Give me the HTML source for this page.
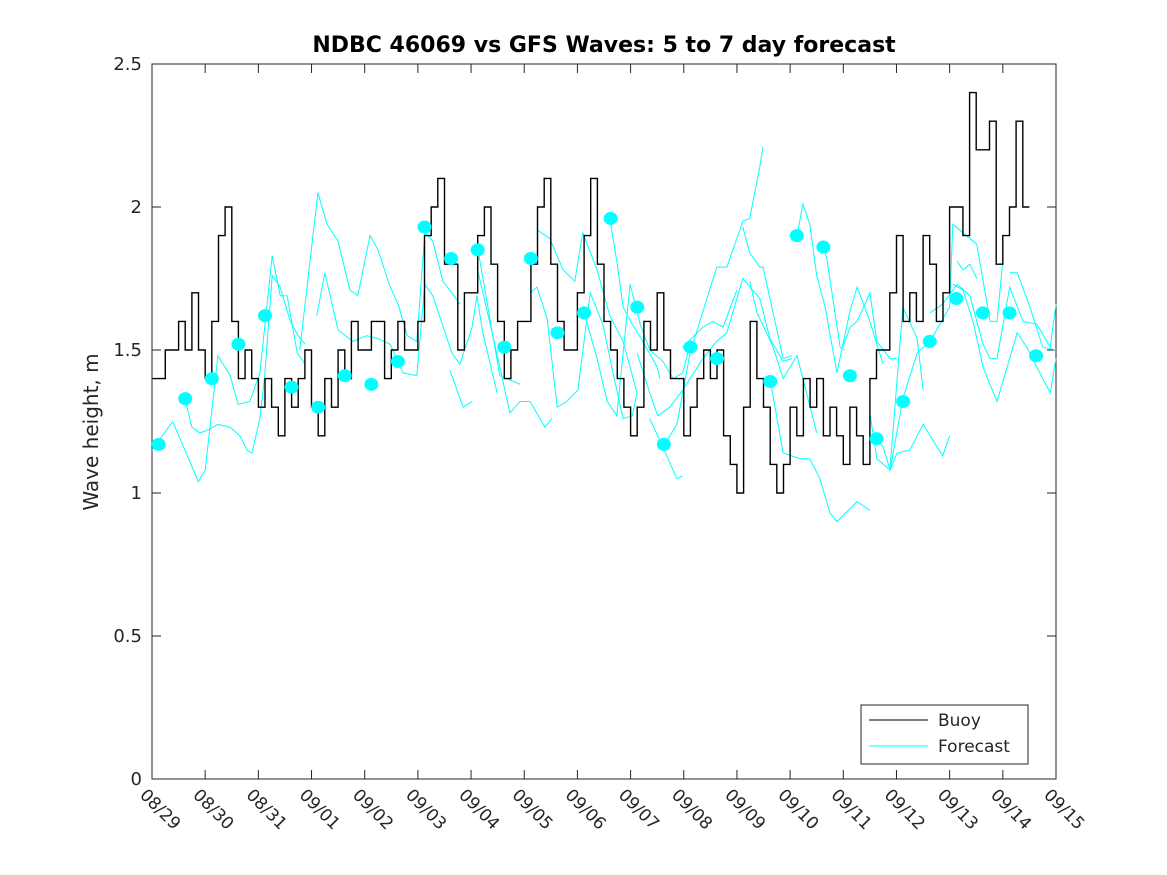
<!DOCTYPE html>
<html><head><meta charset="utf-8"><style>
body{margin:0;background:#fff}
svg{display:block}
text{font-family:"DejaVu Sans","Liberation Sans",sans-serif;fill:#262626}
</style></head><body>
<svg id="chart" width="1167" height="875" viewBox="0 0 1167 875" xmlns="http://www.w3.org/2000/svg">
<rect width="1167" height="875" fill="#fff"/>
<text x="604" y="52" text-anchor="middle" font-size="22" font-weight="bold" style="fill:#000">NDBC 46069 vs GFS Waves: 5 to 7 day forecast</text>
<text transform="translate(98,432) rotate(-90)" text-anchor="middle" font-size="20">Wave height, m</text>
<g id="plot"></g>
</svg>
<script>
const xTickLabels=["08/29","08/30","08/31","09/01","09/02","09/03","09/04","09/05","09/06","09/07","09/08","09/09","09/10","09/11","09/12","09/13","09/14","09/15"];
const yTickValues=[0,0.5,1,1.5,2,2.5];
const yTickLabels=["0","0.5","1","1.5","2","2.5"];
const buoyStart=0, buoyStep=0.125;
const buoyVals=[1.4,1.4,1.5,1.5,1.6,1.5,1.7,1.5,1.4,1.6,1.9,2.0,1.6,1.4,1.5,1.4,1.3,1.4,1.3,1.2,1.4,1.3,1.4,1.5,1.3,1.2,1.4,1.3,1.5,1.4,1.6,1.5,1.5,1.6,1.6,1.4,1.5,1.6,1.5,1.5,1.6,1.9,2.0,2.1,1.8,1.8,1.5,1.7,1.7,1.9,2.0,1.8,1.6,1.4,1.5,1.6,1.6,1.8,2.0,2.1,1.8,1.6,1.5,1.5,1.7,1.9,2.1,1.8,1.6,1.5,1.4,1.3,1.2,1.3,1.6,1.5,1.7,1.5,1.4,1.4,1.2,1.3,1.4,1.5,1.4,1.5,1.2,1.1,1.0,1.3,1.6,1.4,1.3,1.1,1.0,1.1,1.3,1.2,1.4,1.3,1.4,1.2,1.3,1.2,1.1,1.3,1.2,1.1,1.4,1.5,1.5,1.7,1.9,1.6,1.7,1.6,1.9,1.8,1.6,1.7,2.0,2.0,1.9,2.4,2.2,2.2,2.3,1.8,1.9,2.0,2.3,2.0];
const dotDays=[0.125,0.625,1.125,1.625,2.125,2.625,3.125,3.625,4.125,4.625,5.125,5.625,6.125,6.625,7.125,7.625,8.125,8.625,9.125,9.625,10.125,10.625,11.625,12.125,12.625,13.125,13.625,14.125,14.625,15.125,15.625,16.125,16.625];
const dotVals=[1.17,1.33,1.40,1.52,1.62,1.37,1.30,1.41,1.38,1.46,1.93,1.82,1.85,1.51,1.82,1.56,1.63,1.96,1.65,1.17,1.51,1.47,1.39,1.90,1.86,1.41,1.19,1.32,1.53,1.68,1.63,1.63,1.48];
const fcDays=[
[0,0.39,0.87,1.0,1.24,1.47,1.62,1.84,2.03,2.26,2.41,2.54,2.73,2.88],
[0.62,0.75,0.90,1.05,1.24,1.47,1.65,1.79,1.88,2.03,2.12,2.26,2.41,2.60,2.75,2.88],
[2.78,3.12,3.29,3.50,3.72,3.87,4.10,4.25,4.48,4.63,4.80,4.98,5.13,5.28,5.47,5.64,5.79],
[3.10,3.25,3.50,3.78,4.04,4.25,4.48,4.72,4.98,5.13,5.28,5.64,5.79,6.02,6.11,6.22,6.49],
[5.60,5.85,6.02],
[6.13,6.54,6.92],
[6.11,6.41,6.73,6.92,7.11,7.39,7.52],
[7.11,7.24,7.43,7.62,7.80,8.01,8.24,8.48,8.67,8.86,9.03,9.12],
[7.24,7.48,7.73,7.95,8.10,8.37,8.61,8.86,9.12],
[8.61,8.74,8.86,9.03,9.23,9.50,9.55],
[8.14,8.37,8.56,8.74,8.99,9.18,9.36,9.61,9.80,9.98,10.12],
[9.36,9.61,9.87,9.98],
[9.12,9.36,9.51,9.74,9.98,10.36,10.62,10.81,11.11,11.43,11.62,11.87,12.03],
[9.61,9.87,10.12,10.62,10.81,11.00,11.11,11.24,11.43,11.49],
[9.98,10.36,10.55,10.74,11.00],
[11.11,11.24,11.43,11.49,11.87,12.03],
[11.24,11.38,11.68,11.87,12.13,12.50],
[12.13,12.24,12.37,12.50,12.66,12.88,13.13,13.26,13.50,13.63,13.75],
[12.62,12.69,12.94,13.03],
[11.62,11.87,12.19,12.37,12.56,12.75,12.88,13.26,13.50],
[12.99,13.13,13.26,13.50,13.63,13.88,14.01],
[13.63,13.75,13.88,14.01,14.25,14.50,14.87,15.0],
[13.50,13.63,13.88,14.12,14.39,14.63,15.0,15.06,15.51,15.76,15.89,16.0],
[13.88,14.12,14.39,14.50],
[14.63,14.87,15.14,15.38,15.63,15.76,15.89,16.13,16.38,16.64,16.89,17.0],
[15.06,15.25,15.44,15.63,15.89,16.27,16.45,16.64,16.89,17.0],
[15.14,15.25,15.38,15.51],
[16.13,16.27,16.51,16.75,17.0]
];
const fcVals=[
[1.15,1.25,1.04,1.08,1.48,1.41,1.31,1.32,1.42,1.83,1.69,1.69,1.49,1.45],
[1.33,1.23,1.21,1.22,1.24,1.23,1.20,1.15,1.14,1.26,1.41,1.76,1.72,1.60,1.55,1.52],
[1.50,2.05,1.94,1.88,1.71,1.69,1.90,1.85,1.72,1.66,1.55,1.53,1.91,1.88,1.74,1.70,1.66],
[1.62,1.77,1.57,1.53,1.55,1.54,1.52,1.42,1.41,1.73,1.69,1.49,1.45,1.58,1.69,1.56,1.35],
[1.43,1.30,1.32],
[1.85,1.41,1.38],
[1.79,1.55,1.28,1.32,1.32,1.23,1.26],
[1.70,1.72,1.61,1.30,1.32,1.36,1.70,1.59,1.42,1.26,1.27,1.35],
[1.92,1.89,1.78,1.74,1.91,1.78,1.62,1.53,1.35],
[1.96,1.81,1.65,1.59,1.53,1.44,1.40],
[1.62,1.47,1.32,1.27,1.73,1.59,1.50,1.46,1.40,1.42,1.52],
[1.26,1.16,1.05,1.06],
[1.49,1.35,1.27,1.30,1.36,1.47,1.53,1.56,1.75,1.68,1.54,1.46,1.47],
[1.16,1.24,1.49,1.79,1.79,1.89,1.95,1.96,2.14,2.21],
[1.51,1.58,1.60,1.58,1.71],
[1.93,1.84,1.79,1.79,1.47,1.48],
[1.74,1.63,1.51,1.40,1.48,1.21],
[1.90,2.01,1.94,1.76,1.65,1.42,1.64,1.72,1.60,1.52,1.45],
[1.86,1.82,1.51,1.50],
[1.40,1.14,1.12,1.12,1.05,0.93,0.90,0.97,0.94],
[1.51,1.58,1.60,1.70,1.53,1.47,1.47],
[1.19,1.16,1.08,1.14,1.15,1.24,1.13,1.20],
[1.28,1.12,1.08,1.33,1.49,1.53,1.65,1.94,1.87,1.60,1.60,1.81],
[1.09,1.65,1.54,1.36],
[1.63,1.66,1.73,1.69,1.52,1.47,1.47,1.72,1.60,1.59,1.51,1.66],
[1.73,1.71,1.60,1.44,1.32,1.56,1.51,1.44,1.35,1.47],
[1.81,1.78,1.80,1.75],
[1.77,1.77,1.65,1.51,1.50]
];

const X0=152,X1=1056,Y0=779,Y1=64,DMAX=17,VMAX=2.5;
const xs=d=>X0+(X1-X0)*d/DMAX;
const ys=v=>Y0-(Y0-Y1)*v/VMAX;
const NS="http://www.w3.org/2000/svg";
const g=document.getElementById('plot');
function mk(t,a){const e=document.createElementNS(NS,t);for(const k in a)e.setAttribute(k,a[k]);g.appendChild(e);return e;}

const box=mk('rect',{x:X0,y:Y1,width:X1-X0,height:Y0-Y1,fill:'none',stroke:'#262626','stroke-width':1});



yTickValues.forEach((v,i)=>{
  const y=ys(v);
  const t1=mk('line',{x1:X0,x2:X0+9,y1:y,y2:y,stroke:'#262626'});
  
  
  const t2=mk('line',{x1:X1-9,x2:X1,y1:y,y2:y,stroke:'#262626'});
  
  
  const tx=mk('text',{x:X0-10,y:y+6,'text-anchor':'end','font-size':18});
  tx.textContent=yTickLabels[i];
  
  
});
xTickLabels.forEach((lab,i)=>{
  const x=xs(i);
  const t1=mk('line',{x1:x,x2:x,y1:Y0,y2:Y0-9,stroke:'#262626'});
  
  
  const t2=mk('line',{x1:x,x2:x,y1:Y1,y2:Y1+9,stroke:'#262626'});
  
  
  const tx=mk('text',{x:0,y:0,'font-size':17,transform:`translate(${x-13},${Y0+17}) rotate(45)`});
  tx.textContent=lab;
  
  
});

fcDays.forEach((ds,i)=>{
  const pts=ds.map((d,j)=>xs(d).toFixed(1)+','+ys(fcVals[i][j]).toFixed(1)).join(' ');
  const p=mk('polyline',{points:pts,fill:'none',stroke:'#00ffff','stroke-width':1});
  
  
});

let bp=[];
buoyVals.forEach((v,i)=>{
  const xa=xs(buoyStart+i*buoyStep), xb=xs(buoyStart+(i+1)*buoyStep);
  bp.push(xa.toFixed(1)+','+ys(v).toFixed(1));
  bp.push(xb.toFixed(1)+','+ys(v).toFixed(1));
});
const buoy=mk('polyline',{points:bp.join(' '),fill:'none',stroke:'#000','stroke-width':1.4});



dotDays.forEach((d,i)=>{
  const c=mk('ellipse',{cx:xs(d),cy:ys(dotVals[i]),rx:7,ry:6.5,fill:'#00ffff'});
  
  
});

const lg=mk('rect',{x:861,y:705,width:167,height:59,fill:'#fff',stroke:'#262626'});


const l1=mk('line',{x1:869,x2:928,y1:720,y2:720,stroke:'#000'});


const l2=mk('line',{x1:869,x2:928,y1:746,y2:746,stroke:'#00ffff'});


const lt1=mk('text',{x:938,y:726,'font-size':17});
lt1.textContent='Buoy';


const lt2=mk('text',{x:938,y:752,'font-size':17});
lt2.textContent='Forecast';


</script>
</body></html>
